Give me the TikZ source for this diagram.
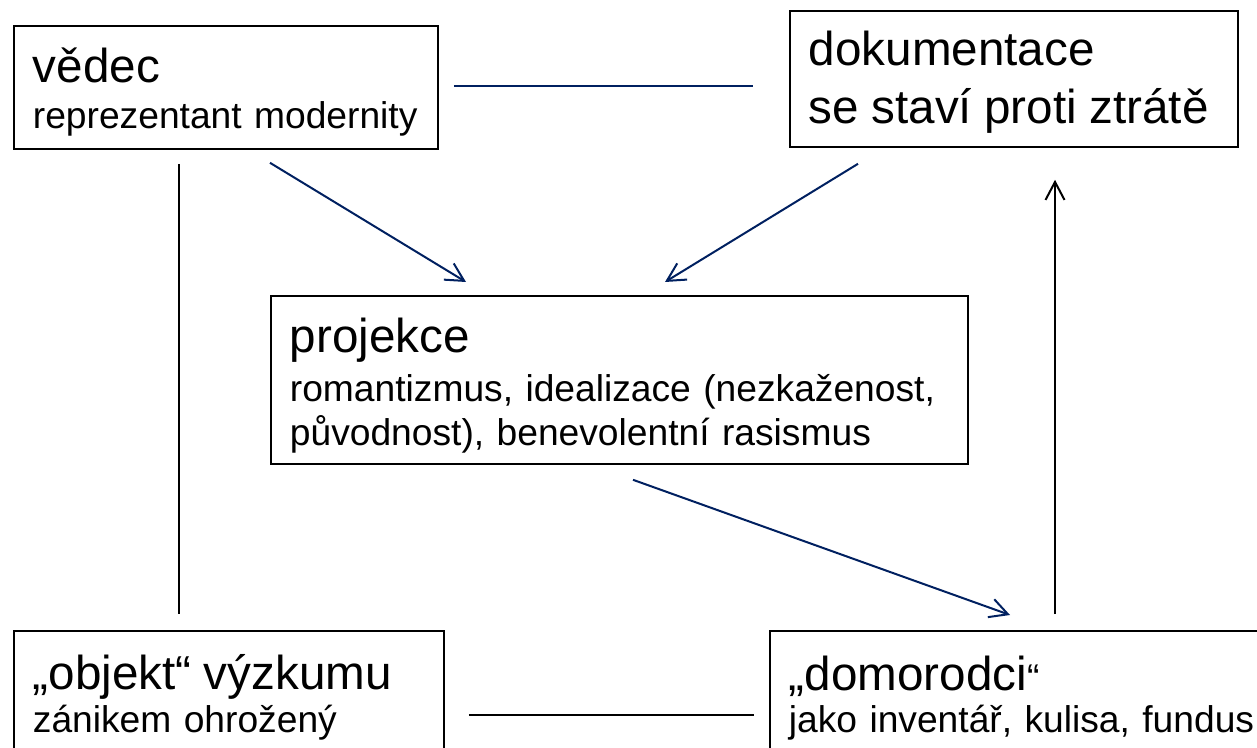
\documentclass[tikz,border=0pt]{standalone}
\usepackage{fontspec}
\setmainfont{Liberation Sans}
\usetikzlibrary{arrows.meta, calc}
\definecolor{navy}{RGB}{0,32,96}

\begin{document}
\begin{tikzpicture}[
            x=0.5pt, y=-0.5pt,
            box/.style={draw, line width=0.9pt, anchor=north west, align=left, inner xsep=9.5pt, inner ysep=0pt, font=\fontsize{18.6}{21}\selectfont},
            blueline/.style={draw=navy, line width=1pt},
            blackline/.style={draw=black, line width=1pt},
            arr/.style={-{Straight Barb[length=9pt, width=9.5pt]}}
        ]
        \useasboundingbox (0,0) rectangle (1257,748);

        % Nodes
        \node[box, text width=193pt] (vedec) at (13,25) {\rule{0pt}{28.5pt}{\fontsize{23.8}{28}\selectfont vědec}\\[2pt] reprezentant modernity\rule[-10pt]{0pt}{0pt}};
        \node[box, text width=205pt] (doku) at (789,10) {\rule{0pt}{27.5pt}{\fontsize{23.8}{28}\selectfont dokumentace}\\[8pt] {\fontsize{23.8}{28}\selectfont se staví proti ztrátě}\rule[-11.5pt]{0pt}{0pt}};
        \node[box, text width=329.5pt] (proj) at (270,295) {\rule{0pt}{28.25pt}{\fontsize{23.8}{28}\selectfont projekce}\\[3.75pt] romantizmus, idealizace (nezkaženost,\\[1pt] původnost), benevolentní rasismus\rule[-9pt]{0pt}{0pt}};
        \node[box, text width=196pt] (objekt) at (13,630) {\rule{0pt}{29.5pt}{\fontsize{23.8}{28}\selectfont „objekt“ výzkumu}\\[0.5pt] zánikem ohrožený\rule[-40pt]{0pt}{0pt}};
        \node[box, text width=270pt] (domo) at (769,630) {\rule{0pt}{30pt}{\fontsize{23.8}{28}\selectfont „domorodci}“\\ jako inventář, kulisa, fundus\rule[-40pt]{0pt}{0pt}};

        % Lines
        \draw[blueline] ($(vedec.north east)+(15,61)$) -- ($(doku.north west)+(-36,76)$);
        \draw[blackline] ($(vedec.south west)+(166,14)$) -- ($(objekt.north west)+(166,-16)$);
        \draw[blackline] ($(objekt.north east)+(24,85)$) -- ($(domo.north west)+(-15,85)$);

        % Arrows
        \draw[blueline, arr] ($(vedec.south west)+(257,13)$) -- ($(proj.north west)+(196,-13)$);
        \draw[blueline, arr] ($(doku.south west)+(69,16)$) -- ($(proj.north west)+(395,-13)$);
        \draw[blueline, arr] ($(proj.south west)+(363,15)$) -- ($(domo.north west)+(241,-15)$);
        \draw[blackline, arr] ($(domo.north west)+(286,-16)$) -- ($(doku.south west)+(266,32)$);
        \end{tikzpicture}
\end{document}
